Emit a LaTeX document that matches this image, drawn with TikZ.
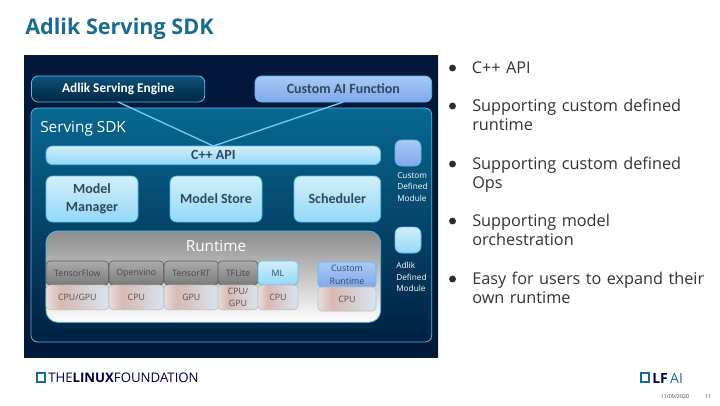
\documentclass[tikz,border=0pt]{standalone}
\usepackage{fontspec}
\usetikzlibrary{positioning}
\setmainfont{Open Sans}
\newfontfamily\boxfont{Carlito}
\definecolor{edgeblue}{HTML}{55BDEB}
\definecolor{titleblue}{HTML}{1B6A93}
\definecolor{bulletgray}{HTML}{2E2E2E}
\definecolor{boxtext}{HTML}{33475C}
\definecolor{skytop}{HTML}{D2EEFB}
\definecolor{skybot}{HTML}{92D8F7}
\definecolor{customtop}{HTML}{A9C9F4}
\definecolor{custombot}{HTML}{7FA7EC}
\definecolor{backtop}{HTML}{02173A}
\definecolor{backbot}{HTML}{001A38}
\definecolor{sdktop}{HTML}{086891}
\definecolor{sdkbot}{HTML}{002142}
\definecolor{enginetop}{HTML}{0C5277}
\definecolor{enginebot}{HTML}{012644}
\definecolor{cpupale}{HTML}{E6DEDE}
\definecolor{cpupink}{HTML}{D9B8B1}
\definecolor{cpublue}{HTML}{D6E4F0}
\pgfdeclarehorizontalshading{cpushade}{100bp}{color(0bp)=(cpupale); color(25bp)=(cpupale); color(37bp)=(cpupink); color(75bp)=(cpublue); color(100bp)=(cpublue)}
\tikzset{
    panel/.style={draw=edgeblue, line width=0.6pt, rounded corners=5pt, anchor=north west, inner sep=0pt, outer sep=0pt},
    skybox/.style={panel, top color=skytop, bottom color=skybot, text=boxtext, font=\boxfont\bfseries\fontsize{10.5}{13.5}\selectfont, align=center},
    custombox/.style={skybox, top color=customtop, bottom color=custombot},
    grayhead/.style={draw=black!65, line width=0.5pt, rounded corners=3pt, anchor=north west, inner sep=0pt, outer sep=0pt, top color=black!33, bottom color=black!52, text=black!72, font=\fontsize{6.6}{9.5}\selectfont, align=center},
    bluehead/.style={grayhead, draw=edgeblue, top color=skytop, bottom color=skybot, text=boxtext},
    cpucell/.style={draw=black!25, line width=0.5pt, rounded corners=3pt, anchor=north west, inner sep=0pt, outer sep=0pt, shading=cpushade, text=black!68, font=\fontsize{6.6}{9.5}\selectfont, align=center},
    sidetext/.style={text=white, font=\fontsize{6.2}{8.6}\selectfont, align=left, anchor=north west, inner sep=0pt},
    bullet/.style={circle, fill=bulletgray, inner sep=0pt, minimum size=5.2pt},
    pointtext/.style={text=black!80, font=\fontsize{12.2}{14.3}\selectfont, align=left, anchor=west, inner sep=0pt, text width=190pt},
    connector/.style={draw=edgeblue!80!white, line width=1pt},
}
\begin{document}
\begin{tikzpicture}[x=0.75pt, y=-0.75pt]
    \useasboundingbox (0,0) rectangle (720,405);
    \fill[white] (0,0) rectangle (720,405);
    \node[anchor=west, inner sep=0pt, text=titleblue, font=\bfseries\fontsize{16.2}{20}\selectfont] (title) at (25,29) {Adlik Serving SDK};

    % dark panel with the two layers
    \node[anchor=north west, inner sep=0pt, outer sep=0pt, minimum width=310.5pt, minimum height=227pt, top color=backtop, bottom color=backbot] (back) at (24,55) {};
    \node[panel, minimum width=300.5pt, minimum height=175.5pt, top color=sdktop, bottom color=sdkbot] (sdk) at (31,108) {};
    \node[anchor=north west, inner sep=0pt, text=white, font=\fontsize{11.5}{14}\selectfont] (sdklabel) at (40,120.5) {Serving SDK};

    \node[panel, minimum width=130pt, minimum height=19.5pt, top color=enginetop, bottom color=enginebot, text=white, font=\boxfont\bfseries\fontsize{10}{12}\selectfont] (engine) at (31.5,76) {Adlik Serving Engine};
    \node[custombox, minimum width=132.5pt, minimum height=19.5pt] (custom) at (255,76) {Custom AI Function};

    \node[skybox, minimum width=251pt, minimum height=14pt] (api) at (46,146) {C++ API};
    \draw[connector] (engine.south) -- (api.north);
    \draw[connector] (custom.south) -- (api.north);

    \node[skybox, minimum width=69pt, minimum height=34.5pt] (manager) at (46,176) {Model\\Manager};
    \node[skybox, minimum width=69pt, minimum height=34.5pt] (store) at (170,176) {Model Store};
    \node[skybox, minimum width=65pt, minimum height=34.5pt] (scheduler) at (294,176) {Scheduler};

    \node[custombox, minimum width=19.5pt, minimum height=19.5pt] (custommodule) at (395,140) {};
    \node[sidetext, text width=26pt] (customtext) at (397,172) {Custom\\Defined\\Module};
    \node[skybox, minimum width=19.5pt, minimum height=19.5pt] (adlikmodule) at (395,227) {};
    \node[sidetext, text width=26pt] (adliktext) at (396,262) {Adlik\\Defined\\Module};

    % runtime block
    \node[panel, minimum width=251pt, minimum height=68.5pt, top color=black!45, middle color=black!24, bottom color=white, rounded corners=9pt] (runtime) at (46,231) {};
    \node[text=white, inner sep=0pt, font=\fontsize{11.5}{14}\selectfont] (runtimelabel) at (216,246) {Runtime};

    \node[grayhead, minimum width=47pt, minimum height=18pt] (tf) at (46,261) {TensorFlow};
    \node[grayhead, minimum width=41pt, minimum height=18pt] (ov) at (109,261) {Openvino};
    \node[grayhead, minimum width=41pt, minimum height=18pt] (rt) at (164,261) {TensorRT};
    \node[grayhead, minimum width=30pt, minimum height=18pt] (lite) at (218,261) {TFLite};
    \node[bluehead, minimum width=30pt, minimum height=18pt] (ml) at (258,261) {ML};
    \node[bluehead, top color=customtop, bottom color=custombot, minimum width=43.5pt, minimum height=19pt] (cr) at (318,262) {Custom\\Runtime};

    \node[cpucell, minimum width=47pt, minimum height=18.5pt] (tfcpu) at (46,285) {CPU/GPU};
    \node[cpucell, minimum width=41pt, minimum height=18.5pt] (ovcpu) at (109,285) {CPU};
    \node[cpucell, minimum width=41pt, minimum height=18.5pt] (rtcpu) at (164,285) {GPU};
    \node[cpucell, minimum width=30pt, minimum height=18.5pt] (litecpu) at (218,285) {CPU/\\GPU};
    \node[cpucell, minimum width=30pt, minimum height=18.5pt] (mlcpu) at (258,285) {CPU};
    \node[cpucell, minimum width=43.5pt, minimum height=18pt] (crcpu) at (318,287) {CPU};

    % bullet points
    \node[bullet] (b1) at (452.5,68) {};
    \node[pointtext, right=11.5pt of b1] (p1) {C++ API};
    \node[bullet] (b2) at (452.5,106) {};
    \node[pointtext, anchor=north west] (p2) at (472,98.5) {Supporting custom defined\\runtime};
    \node[bullet] (b3) at (452.5,164) {};
    \node[pointtext, anchor=north west] (p3) at (472,156.5) {Supporting custom defined\\Ops};
    \node[bullet] (b4) at (452.5,221) {};
    \node[pointtext, anchor=north west] (p4) at (472,213.5) {Supporting model\\orchestration};
    \node[bullet] (b5) at (452.5,279) {};
    \node[pointtext, anchor=north west] (p5) at (472,271.5) {Easy for users to expand their\\own runtime};

    % footer
    \draw[titleblue, line width=1.2pt] (37,373) rectangle (45,382);
    \node[anchor=west, inner sep=0pt, text=black!70!blue, font=\fontsize{9.9}{11}\selectfont] (lf) at (48,378) {THE\textbf{LINUX}FOUNDATION};
    \draw[titleblue, line width=1.2pt] (641,373) rectangle (649,382);
    \node[anchor=west, inner sep=0pt, text=black!70!blue, font=\fontsize{10.5}{11}\selectfont] (lfai) at (652,378) {\textbf{LF}\,\textcolor{titleblue}{AI}};
    \node[inner sep=0pt, text=black!75, font=\fontsize{4}{5}\selectfont] (date) at (675,397) {11/09/2020};
    \node[inner sep=0pt, text=black!75, font=\fontsize{4}{5}\selectfont] (page) at (708,397) {11};
\end{tikzpicture}
\end{document}
